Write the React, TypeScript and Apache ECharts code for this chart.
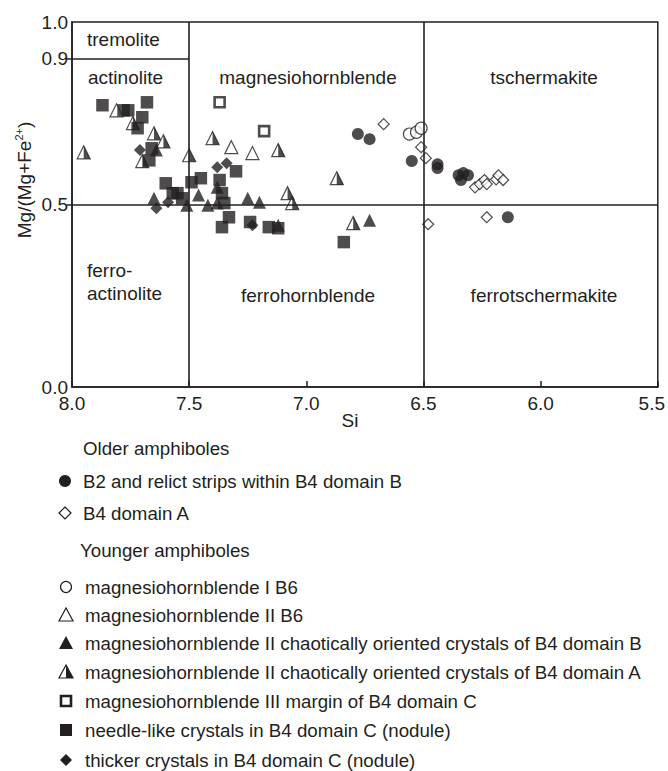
import React, { useEffect, useRef } from "react";
import * as echarts from "echarts";

// ---- data: [Si, Mg/(Mg+Fe2+)] ----
const b2RelictStrips = [
  [6.78, 0.693], [6.73, 0.679], [6.55, 0.619], [6.44, 0.61], [6.44, 0.6],
  [6.35, 0.58], [6.33, 0.586], [6.31, 0.58], [6.34, 0.567], [6.14, 0.465],
];
const b4DomainA = [
  [6.67, 0.72], [6.51, 0.657], [6.49, 0.627], [6.28, 0.547], [6.26, 0.556],
  [6.24, 0.567], [6.23, 0.556], [6.19, 0.569], [6.18, 0.58], [6.16, 0.567],
  [6.23, 0.465], [6.48, 0.446],
];
const mhbIB6 = [[6.56, 0.693], [6.53, 0.698], [6.51, 0.709]];
const mhbIIB6 = [[7.81, 0.758], [7.32, 0.657], [7.23, 0.641]];
const mhbIIChaoticB = [
  [7.64, 0.649], [7.65, 0.517], [7.51, 0.498], [7.46, 0.526], [7.42, 0.498],
  [7.38, 0.547], [7.38, 0.504], [7.25, 0.517], [7.2, 0.506], [7.12, 0.443],
  [6.73, 0.457],
];
const mhbIIChaoticA = [
  [7.95, 0.643], [7.74, 0.723], [7.65, 0.695], [7.61, 0.673], [7.7, 0.619],
  [7.5, 0.635], [7.4, 0.682], [7.12, 0.649], [7.08, 0.531], [7.06, 0.504],
  [6.87, 0.572], [6.8, 0.449],
];
const mhbIIIMargin = [[7.37, 0.78], [7.18, 0.701]];
const needleCrystals = [
  [7.87, 0.772], [7.78, 0.758], [7.76, 0.758], [7.68, 0.78], [7.7, 0.739],
  [7.72, 0.709], [7.66, 0.654], [7.67, 0.621], [7.6, 0.558], [7.57, 0.531],
  [7.55, 0.531], [7.49, 0.561], [7.45, 0.572], [7.53, 0.517], [7.3, 0.591],
  [7.37, 0.567], [7.36, 0.531], [7.35, 0.504], [7.33, 0.465], [7.36, 0.438],
  [7.24, 0.452], [7.16, 0.438], [7.12, 0.435], [6.84, 0.397],
];
const thickerCrystals = [
  [7.71, 0.649], [7.64, 0.49], [7.59, 0.506], [7.38, 0.602], [7.34, 0.613],
  [7.23, 0.443],
];

const yTickValues = [0, 0.5, 0.9, 1.0];
const yMinorTicks = [0.5, 0.9];

const regionLabels = [
  "tremolite", "actinolite", "magnesiohornblende", "tschermakite",
  "ferro-", "actinolite", "ferrohornblende", "ferrotschermakite",
];
const legendOlderTitle = "Older amphiboles";
const legendYoungerTitle = "Younger amphiboles";
const legendOlder = ["B2 and relict strips within B4 domain B", "B4 domain A"];
const legendYounger = [
  "magnesiohornblende I B6",
  "magnesiohornblende II B6",
  "magnesiohornblende II chaotically oriented crystals of B4 domain B",
  "magnesiohornblende II chaotically oriented crystals of B4 domain A",
  "magnesiohornblende III margin of B4 domain C",
  "needle-like crystals in B4 domain C (nodule)",
  "thicker crystals in B4 domain C (nodule)",
];

const INK = "#231f20";
const FONT = "'Liberation Sans', Arial, Helvetica, sans-serif";

function legendMarker(kind: string, cx: number, cy: number): any[] {
  const s = 6;
  switch (kind) {
    case "filledCircle":
      return [{ type: "circle", shape: { cx, cy, r: 6 }, style: { fill: INK } }];
    case "openCircle":
      return [{ type: "circle", shape: { cx, cy, r: 5.5 }, style: { fill: "#fff", stroke: INK, lineWidth: 1.2 } }];
    case "openDiamond":
      return [{ type: "polygon", shape: { points: [[cx, cy - 6], [cx + 6, cy], [cx, cy + 6], [cx - 6, cy]] }, style: { fill: "#fff", stroke: INK, lineWidth: 1.2 } }];
    case "filledDiamond":
      return [{ type: "polygon", shape: { points: [[cx, cy - 6], [cx + 6, cy], [cx, cy + 6], [cx - 6, cy]] }, style: { fill: INK } }];
    case "openTriangle":
      return [{ type: "polygon", shape: { points: [[cx, cy - 7], [cx + 7, cy + 6], [cx - 7, cy + 6]] }, style: { fill: "#fff", stroke: INK, lineWidth: 1.2 } }];
    case "filledTriangle":
      return [{ type: "polygon", shape: { points: [[cx, cy - 7], [cx + 7, cy + 6], [cx - 7, cy + 6]] }, style: { fill: INK } }];
    case "halfTriangle":
      return [
        { type: "polygon", shape: { points: [[cx, cy - 7], [cx + 7, cy + 6], [cx - 7, cy + 6]] }, style: { fill: "#fff", stroke: INK, lineWidth: 1.2 } },
        { type: "polygon", shape: { points: [[cx, cy - 7], [cx + 7, cy + 6], [cx, cy + 6]] }, style: { fill: INK } },
      ];
    case "openSquare":
      return [{ type: "rect", shape: { x: cx - 5, y: cy - 5, width: 10, height: 10 }, style: { fill: "#fff", stroke: INK, lineWidth: 2.6 } }];
    case "filledSquare":
      return [{ type: "rect", shape: { x: cx - s, y: cy - s, width: 2 * s, height: 2 * s }, style: { fill: INK } }];
  }
  return [];
}

function txt(text: string, x: number, y: number, align = "left", size = 19): any {
  return {
    type: "text",
    x,
    y,
    style: { text, fill: INK, fontSize: size, fontFamily: FONT, align, verticalAlign: "middle" },
  };
}

export default function App() {
  const ref = useRef<HTMLDivElement>(null);

  useEffect(() => {
    if (!ref.current) return;
    const chart = echarts.init(ref.current, undefined, { renderer: "svg" });

    const openStyle = { color: "#fff", borderColor: INK, borderWidth: 1.2 };
    const filledStyle = { color: INK };

    const graphics: any[] = [];
    // region labels
    graphics.push(txt(regionLabels[0], 87, 39, "left"));
    graphics.push(txt(regionLabels[1], 88, 77, "left"));
    graphics.push(txt(regionLabels[2], 308, 77, "center"));
    graphics.push(txt(regionLabels[3], 544, 77, "center"));
    graphics.push(txt(regionLabels[4], 87, 270, "left"));
    graphics.push(txt(regionLabels[5], 87, 293, "left"));
    graphics.push(txt(regionLabels[6], 308, 295, "center"));
    graphics.push(txt(regionLabels[7], 544, 295, "center"));
    // axis titles
    graphics.push(txt("Si", 350, 420, "center"));
    graphics.push({
      type: "text",
      x: 24,
      y: 180,
      rotation: Math.PI / 2,
      style: {
        text: "Mg/(Mg+Fe{s|2+})",
        fill: INK,
        fontSize: 19,
        fontFamily: FONT,
        align: "center",
        verticalAlign: "middle",
        rich: {
          s: { fontSize: 11, fontFamily: FONT, fill: INK, verticalAlign: "top", lineHeight: 22 },
        },
      },
    });
    // legend
    const LF = 18.7;
    graphics.push(txt(legendOlderTitle, 83, 448, "left", LF));
    const olderKinds = ["filledCircle", "openDiamond"];
    const olderY = [481, 513];
    legendOlder.forEach((t, i) => {
      graphics.push(...legendMarker(olderKinds[i], 65, olderY[i]));
      graphics.push(txt(t, 83, olderY[i], "left", LF));
    });
    graphics.push(txt(legendYoungerTitle, 80, 550, "left", LF));
    const youngerKinds = ["openCircle", "openTriangle", "filledTriangle", "halfTriangle", "openSquare", "filledSquare", "filledDiamond"];
    const youngerY = [587, 615, 643, 672, 701, 730, 760];
    legendYounger.forEach((t, i) => {
      graphics.push(...legendMarker(youngerKinds[i], 66, youngerY[i]));
      graphics.push(txt(t, 85, youngerY[i], "left", LF));
    });

    const lineStyle = { color: INK, width: 1.6, type: "solid" };

    chart.setOption({
      animation: false,
      backgroundColor: "#fff",
      grid: {
        left: 72,
        right: 7,
        top: 22,
        bottom: 384,
        show: true,
        borderColor: INK,
        borderWidth: 1.5,
        backgroundColor: "transparent",
      },
      xAxis: {
        type: "value",
        inverse: true,
        min: 5.5,
        max: 8.0,
        interval: 0.5,
        axisLine: { show: true, onZero: false, lineStyle: { color: INK, width: 1.5 } },
        axisTick: { show: true, inside: true, length: 6, lineStyle: { color: INK, width: 1.5 } },
        splitLine: { show: false },
        axisLabel: {
          color: INK,
          fontSize: 19,
          fontFamily: FONT,
          margin: 7,
          formatter: (v: number) => (v === 5.5 ? "{e|" + v.toFixed(1) + "}" : v.toFixed(1)),
          rich: { e: { fontSize: 19, fontFamily: FONT, color: INK, padding: [0, 12, 0, 0] } },
        },
      },
      yAxis: {
        type: "value",
        min: 0,
        max: 1,
        axisLine: { show: true, onZero: false, lineStyle: { color: INK, width: 1.5 } },
        axisTick: { show: true, inside: false, length: 5, customValues: yMinorTicks, lineStyle: { color: INK, width: 1.5 } },
        splitLine: { show: false },
        axisLabel: {
          color: INK,
          fontSize: 19,
          fontFamily: FONT,
          margin: 4,
          customValues: yTickValues,
          formatter: (v: number) => v.toFixed(1),
        },
      },
      graphic: graphics,
      series: [
        {
          name: "fields",
          type: "scatter",
          data: [],
          silent: true,
          markLine: {
            silent: true,
            symbol: ["none", "none"],
            label: { show: false },
            lineStyle,
            data: [
              [{ coord: [7.5, 0] }, { coord: [7.5, 1] }],
              [{ coord: [6.5, 0] }, { coord: [6.5, 1] }],
              [{ coord: [8.0, 0.5] }, { coord: [5.5, 0.5] }],
              [{ coord: [8.0, 0.9] }, { coord: [7.5, 0.9] }],
            ],
          },
        },
        { name: legendOlder[1], type: "scatter", symbol: "diamond", symbolSize: 11, itemStyle: openStyle, data: b4DomainA },
        { name: legendYounger[0], type: "scatter", symbol: "circle", symbolSize: 12, itemStyle: openStyle, data: mhbIB6 },
        { name: legendOlder[0], type: "scatter", symbol: "circle", symbolSize: 12, itemStyle: filledStyle, data: b2RelictStrips },
        { name: legendYounger[1], type: "scatter", symbol: "triangle", symbolSize: 13, itemStyle: openStyle, data: mhbIIB6 },
        { name: legendYounger[3], type: "scatter", symbol: "triangle", symbolSize: 13, itemStyle: openStyle, data: mhbIIChaoticA },
        {
          name: legendYounger[3] + " (fill)",
          type: "scatter",
          symbol: "path://M0,0 L1,2 L0,2 Z",
          symbolSize: [6.5, 13],
          symbolOffset: [3.25, 0],
          itemStyle: filledStyle,
          data: mhbIIChaoticA,
        },
        { name: legendYounger[4], type: "scatter", symbol: "rect", symbolSize: 10, itemStyle: { color: "#fff", borderColor: INK, borderWidth: 2.6 }, data: mhbIIIMargin },
        { name: legendYounger[5], type: "scatter", symbol: "rect", symbolSize: 12.5, itemStyle: filledStyle, data: needleCrystals },
        { name: legendYounger[6], type: "scatter", symbol: "diamond", symbolSize: 12, itemStyle: filledStyle, data: thickerCrystals },
        { name: legendYounger[2], type: "scatter", symbol: "triangle", symbolSize: 13, itemStyle: filledStyle, data: mhbIIChaoticB },
      ],
    });

    return () => chart.dispose();
  }, []);

  return (
    <div
      ref={ref}
      style={{ position: "absolute", left: 0, top: 0, width: 668, height: 771, background: "#fff" }}
    />
  );
}
